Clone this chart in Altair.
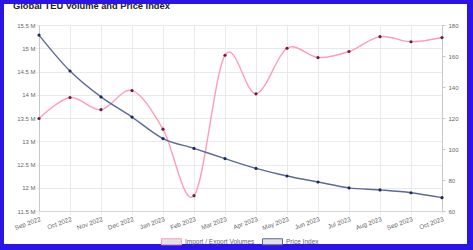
import altair as alt
import pandas as pd

months = ["Sep 2022", "Oct 2022", "Nov 2022", "Dec 2022", "Jan 2023", "Feb 2023",
          "Mar 2023", "Apr 2023", "May 2023", "Jun 2023", "Jul 2023", "Aug 2023",
          "Sep 2023", "Oct 2023"]
volumes = [13.49, 13.94, 13.68, 14.09, 13.26, 11.83, 14.85, 14.02, 15.0, 14.8,
           14.93, 15.25, 15.14, 15.23]
price_index = [173.5, 150.3, 133.6, 120.6, 106.7, 100.4, 93.8, 87.5, 82.6, 78.7,
               74.9, 73.6, 71.8, 68.6]
series_names = ["Import / Export Volumes", "Price Index"]
title_text = "Global TEU Volume and Price Index"
vol_ticks = [11.5, 12, 12.5, 13, 13.5, 14, 14.5, 15, 15.5]
price_ticks = [60, 80, 100, 120, 140, 160, 180]

FONT = "Liberation Sans"
PINK = "#ff9db8"
SLATE = "#5b6a96"
PINK_DOT = "#6e1a40"
SLATE_DOT = "#1b2a5e"
BLUE = "#2a14e6"
GRID = "#e9e9e9"
LABEL = "#666666"

vol_df = pd.DataFrame({"month": months, "value": volumes, "series": series_names[0]})
price_df = pd.DataFrame({"month": months, "value": price_index, "series": series_names[1]})

x_enc = alt.X(
    "month:N", sort=months, title=None,
    scale=alt.Scale(type="point", padding=0),
    axis=alt.Axis(labelAngle=-20, labelAlign="right", labelBaseline="top",
                  labelFontSize=6.3, labelColor=LABEL, labelFont=FONT,
                  labelPadding=1.5, tickSize=3, tickColor=GRID,
                  grid=True, gridColor=GRID, domainColor="#d6d6d6"),
)

stroke_enc = alt.Stroke(
    "series:N",
    scale=alt.Scale(domain=series_names, range=[PINK, SLATE]),
    legend=alt.Legend(title=None, orient="none", legendX=122, legendY=206,
                      direction="horizontal",
                      symbolType="M-1,-0.3H1V0.3H-1Z", symbolSize=400,
                      symbolStrokeWidth=1, symbolFillColor="#e2e2e2",
                      labelFont=FONT, labelFontSize=6.5, labelColor=LABEL,
                      labelOffset=3, columnPadding=5),
)

y_left = alt.Y(
    "value:Q", title=None,
    scale=alt.Scale(domain=[11.5, 15.5], nice=False, zero=False),
    axis=alt.Axis(orient="left", values=vol_ticks, labelExpr="datum.value + ' M'",
                  labelFontSize=6, labelColor=LABEL, labelFont=FONT,
                  labelPadding=1, tickSize=3, tickColor=GRID,
                  grid=True, gridColor=GRID, domainColor="#c8c8c8"),
)
y_right = alt.Y(
    "value:Q", title=None,
    scale=alt.Scale(domain=[60, 180], nice=False, zero=False),
    axis=alt.Axis(orient="right", values=price_ticks,
                  labelFontSize=6, labelColor=LABEL, labelFont=FONT,
                  labelPadding=3, tickSize=3, tickColor="#c8c8c8",
                  grid=False, domainColor="#c8c8c8"),
)

vol_line = alt.Chart(vol_df).mark_line(interpolate="cardinal", strokeWidth=1.4).encode(
    x=x_enc, y=y_left, stroke=stroke_enc)
vol_pts = alt.Chart(vol_df).mark_point(filled=True, size=10, opacity=1, color=PINK_DOT).encode(
    x=x_enc, y=y_left)
left = alt.layer(vol_line, vol_pts)

price_line = alt.Chart(price_df).mark_line(interpolate="cardinal", strokeWidth=1.4).encode(
    x=x_enc, y=y_right, stroke=stroke_enc)
price_pts = alt.Chart(price_df).mark_point(filled=True, size=10, opacity=1, color=SLATE_DOT).encode(
    x=x_enc, y=y_right)
right = alt.layer(price_line, price_pts)

title_layer = alt.Chart(pd.DataFrame({"t": [title_text]})).mark_text(
    align="left", baseline="alphabetic", fontSize=9.3, fontWeight="bold",
    font=FONT, color="#222222").encode(
    text="t:N", x=alt.value(-26), y=alt.value(-15.7))

border = alt.Chart(pd.DataFrame({"b": [0]})).mark_rect(
    fillOpacity=0, stroke=BLUE, strokeWidth=12).encode(
    x=alt.value(-41), x2=alt.value(434), y=alt.value(-27), y2=alt.value(225))

chart = alt.layer(title_layer, left, right, border).resolve_scale(
    y="independent"
).properties(
    width=403, height=186,
    padding={"left": 39, "top": 25, "right": 31, "bottom": 39},
    autosize=alt.AutoSizeParams(type="none"),
    background="white",
).configure_view(stroke="transparent")

chart.save("out.html", embed_options={"renderer": "svg", "actions": False})
